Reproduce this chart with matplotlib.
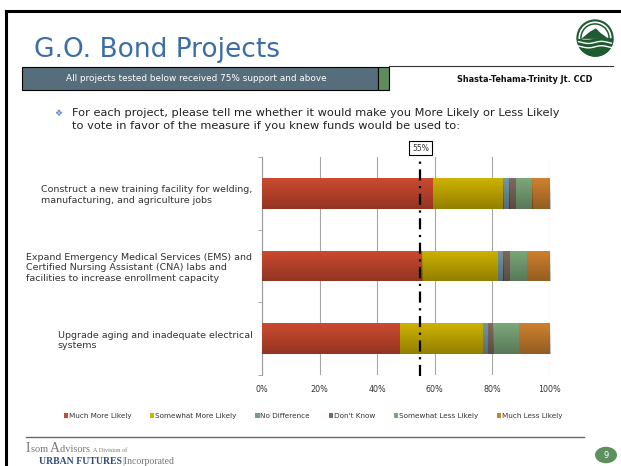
import numpy as np
from matplotlib import pyplot as plt
from matplotlib.patches import Rectangle, Circle, Polygon
from matplotlib.lines import Line2D

W, H = 621, 466

projects = [
    'Construct a new training facility for welding,\nmanufacturing, and agriculture jobs',
    'Expand Emergency Medical Services (EMS) and\nCertified Nursing Assistant (CNA) labs and\nfacilities to increase enrollment capacity',
    'Upgrade aging and inadequate electrical\nsystems',
]
categories = ['Much More Likely', 'Somewhat More Likely', 'No Difference',
              "Don't Know", 'Somewhat Less Likely', 'Much Less Likely']
much_more = [59.3, 55.7, 47.9]
somewhat_more = [24.4, 26.2, 28.8]
no_diff = [2.1, 1.8, 1.7]
dont_know = [2.3, 2.4, 1.8]
somewhat_less = [5.6, 5.9, 9.0]
much_less = [6.3, 8.0, 10.8]
threshold = 55
x_ticks = [0, 20, 40, 60, 80, 100]

colors = ['#cb4a2f', '#cdb100', '#7398a1', '#7f685e', '#7ba77a', '#cd812f']


def fx(x):
    return x / W


def fy(y):
    return 1 - y / H


fig = plt.figure(figsize=(W / 100, H / 100), dpi=100)
fig.patch.set_facecolor('white')
renderer = fig.canvas.get_renderer()


def chain(x, y, parts):
    # put text pieces one after the other on one baseline
    for s, size, kw in parts:
        t = fig.text(fx(x), fy(y), s, fontsize=size, va='baseline', ha='left', **kw)
        x += t.get_window_extent(renderer).width


# slide frame
fig.add_artist(Line2D([fx(6), fx(6)], [fy(11), 0], color='black', lw=2.2))
fig.add_artist(Line2D([fx(6), 1], [fy(11), fy(11)], color='black', lw=2.2))

# header
fig.text(fx(34), fy(57), 'G.O. Bond Projects', fontsize=19, color='#3b6da6',
         va='baseline', ha='left')
fig.add_artist(Rectangle((fx(22), fy(90)), fx(356), 23 / H, facecolor='#566e7b',
                         edgecolor='black', lw=0.8))
fig.add_artist(Rectangle((fx(378), fy(90)), fx(11), 23 / H, facecolor='#5f8c5c',
                         edgecolor='black', lw=0.8))
fig.text(fx(196), fy(78.5), 'All projects tested below received 75% support and above',
         fontsize=6.4, color='white', ha='center', va='center')
fig.add_artist(Line2D([fx(389), fx(613)], [fy(66), fy(66)], color='#333333', lw=0.8))
fig.text(fx(525), fy(80), 'Shasta-Tehama-Trinity Jt. CCD', fontsize=5.9,
         fontweight='bold', color='#111111', ha='center', va='center')

# logo
lx, ly, lr = 595, 38, 18
logo = fig.add_axes([fx(lx - lr - 1), fy(ly + lr + 1), (2 * lr + 2) / W, (2 * lr + 2) / H])
logo.set_xlim(-1.08, 1.08)
logo.set_ylim(-1.08, 1.08)
logo.axis('off')
logo.add_patch(Circle((0, 0), 1.0, facecolor='white', edgecolor='#1f5a30', lw=1.5))
logo.add_patch(Circle((0, 0), 0.8, facecolor='white', edgecolor='#1f5a30', lw=1.1))
logo.add_patch(Polygon([(-0.78, -0.05), (-0.3, 0.35), (0.05, 0.55), (0.3, 0.3),
                        (0.78, -0.05)], closed=True, facecolor='#1f5a30'))
t = np.linspace(-0.98, 0.98, 50)
logo.fill_between(t, -np.sqrt(1 - t ** 2), 0.05 * np.sin(3 * t) - 0.05, color='#1f5a30')
for off in [-0.25, -0.5]:
    logo.plot(t * 0.95, 0.06 * np.sin(4 * t) + off, color='white', lw=1.0)

# bullet text
fig.text(fx(58), fy(113), '\u2756', fontsize=6.5, color='#5a8fc0', ha='center', va='center')
fig.text(fx(72), fy(113), 'For each project, please tell me whether it would make you '
         'More Likely or Less Likely', fontsize=8.2, color='#222222', va='center')
fig.text(fx(72), fy(126), 'to vote in favor of the measure if you knew funds would be used to:',
         fontsize=8.2, color='#222222', va='center')

# chart
ax = fig.add_axes([fx(262), fy(375), (550 - 262) / W, (375 - 157) / H])
series = [much_more, somewhat_more, no_diff, dont_know, somewhat_less, much_less]
ypos = np.arange(len(projects))
left = np.zeros(len(projects))
shade = np.zeros((32, 1, 4))
shade[:, 0, 3] = np.linspace(0, 0.28, 32)
for vals, name, c in zip(series, categories, colors):
    bars = ax.barh(ypos, vals, left=left, height=0.42, color=c, label=name, zorder=3)
    for b in bars:
        im = ax.imshow(shade, extent=[b.get_x(), b.get_x() + b.get_width(),
                                      b.get_y() + b.get_height(), b.get_y()],
                       aspect='auto', zorder=4, origin='upper')
        im.set_clip_path(b)
    left += np.array(vals)

ax.set_xlim(0, 100)
ax.set_ylim(len(projects) - 0.5, -0.5)
ax.set_xticks(x_ticks)
ax.set_xticklabels([f'{v}%' for v in x_ticks], fontsize=5.8, color='#333333')
ax.set_yticks(ypos)
ax.set_yticklabels(projects, fontsize=6.8, color='#333333', multialignment='left')
ax.set_yticks(np.arange(len(projects) + 1) - 0.5, minor=True)
ax.tick_params(axis='y', which='major', length=0, pad=7)
ax.tick_params(axis='y', which='minor', length=3, color='#999999')
ax.tick_params(axis='x', length=0, pad=7)
ax.grid(axis='x', color='#a6a6a6', lw=0.8, zorder=0)
for s in ['top', 'right', 'bottom']:
    ax.spines[s].set_visible(False)
ax.spines['left'].set_color('#999999')

ax.plot([threshold, threshold], [2.52, -0.49], color='black', lw=1.6,
        linestyle=(0, (5, 2.5, 1, 2.5)), zorder=5, clip_on=False)
ax.text(threshold, -0.56, f'{threshold}%', fontsize=5.5, color='#333333', ha='center',
        va='bottom', bbox=dict(boxstyle='square,pad=0.35', facecolor='white',
                               edgecolor='black', lw=0.8))

fig.legend(*ax.get_legend_handles_labels(), loc='center', bbox_to_anchor=(fx(313), fy(416)),
           ncol=6, frameon=False, fontsize=5.2, handlelength=0.6, handleheight=0.6,
           handletextpad=0.1, columnspacing=2.6, labelcolor='#333333')

# footer
fig.add_artist(Line2D([fx(26), fx(584)], [fy(437), fy(437)], color='#666666', lw=1.0))
serif = dict(family='Liberation Serif', color='#777777')
chain(26, 452, [('I', 10, serif), ('som ', 7.5, serif), ('A', 10, serif),
                ('dvisors ', 7.5, serif), ('A Division of', 4.5, serif)])
chain(39, 464, [('URBAN FUTURES', 7, dict(family='Liberation Serif', fontweight='bold',
                                          color='#2e4d7a')),
                ('|Incorporated', 7, serif)])
fig.add_artist(Circle((fx(606), fy(455)), 11 / W, facecolor='#5f8f5e', edgecolor='none',
                      transform=fig.transFigure))
fig.text(fx(606), fy(455), '9', fontsize=6, color='white', ha='center', va='center')

fig.savefig('out.png', dpi=100)
